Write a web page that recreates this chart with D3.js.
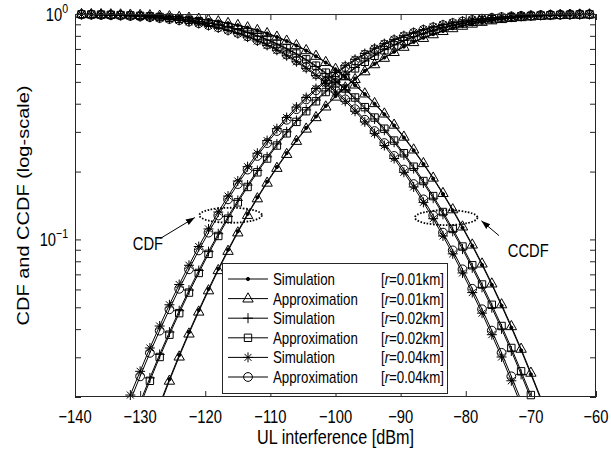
<!DOCTYPE html>
<html lang="en">
<head>
<meta charset="utf-8">
<title>CDF and CCDF of UL interference</title>
<script src="https://cdn.jsdelivr.net/npm/d3@7"></script>
<style>
  body { margin: 0; background: #fff; }
  svg { display: block; font-family: Arial, "Liberation Sans", Helvetica, sans-serif; }
</style>
</head>
<body>
<div id="chart"></div>
<script>
// UL interference grid [dBm] (one marker every 1.5 dB)
const interference = [-139, -137.5, -136, -134.5, -133, -131.5, -130, -128.5, -127, -125.5,
  -124, -122.5, -121, -119.5, -118, -116.5, -115, -113.5, -112, -110.5, -109, -107.5, -106,
  -104.5, -103, -101.5, -100, -98.5, -97, -95.5, -94, -92.5, -91, -89.5, -88, -86.5, -85,
  -83.5, -82, -80.5, -79, -77.5, -76, -74.5, -73, -71.5, -70, -68.5, -67, -65.5, -64, -62.5, -61];

// CDF values (CCDF = 1 - CDF)
const cdfSim001 = [.0016, .0024, .0033, .0045, .0060, .0082, .0108, .0142, .0186, .0240,
  .0307, .0388, .0486, .0603, .0741, .0901, .1087, .1299, .1538, .1803, .2096, .2415, .2758,
  .3124, .3510, .3912, .4324, .4746, .5169, .5592, .6007, .6411, .6800, .7170, .7519, .7842,
  .8140, .8411, .8656, .8873, .9063, .9229, .9371, .9492, .9594, .9678, .9748, .9804, .9849,
  .9886, .9914, .9936, .9952];
const cdfApp001 = [.0016, .0023, .0032, .0044, .0059, .0080, .0106, .0139, .0182, .0236,
  .0302, .0382, .0478, .0594, .0730, .0889, .1073, .1283, .1520, .1784, .2075, .2392, .2734,
  .3098, .3483, .3884, .4296, .4718, .5141, .5564, .5980, .6385, .6775, .7146, .7497, .7822,
  .8122, .8395, .8641, .8860, .9052, .9219, .9363, .9485, .9588, .9673, .9744, .9801, .9847,
  .9884, .9912, .9935, .9951];
const cdfSim002 = [.0035, .0048, .0064, .0085, .0112, .0146, .0190, .0243, .0309, .0388,
  .0483, .0596, .0728, .0883, .1060, .1263, .1490, .1742, .2021, .2325, .2652, .3000, .3370,
  .3755, .4152, .4560, .4971, .5382, .5791, .6190, .6577, .6949, .7300, .7631, .7938, .8220,
  .8476, .8707, .8914, .9094, .9252, .9387, .9502, .9599, .9680, .9748, .9803, .9848, .9884,
  .9911, .9934, .9950, .9963];
const cdfApp002 = [.0034, .0046, .0062, .0083, .0109, .0142, .0184, .0236, .0301, .0378,
  .0471, .0581, .0710, .0863, .1036, .1236, .1460, .1709, .1985, .2285, .2609, .2955, .3322,
  .3705, .4100, .4507, .4918, .5329, .5738, .6138, .6527, .6901, .7255, .7588, .7898, .8184,
  .8443, .8677, .8887, .9070, .9232, .9369, .9487, .9587, .9670, .9740, .9796, .9842, .9879,
  .9908, .9931, .9948, .9961];
const cdfSim004 = [.0052, .0069, .0092, .0121, .0158, .0204, .0260, .0330, .0413, .0513,
  .0631, .0768, .0930, .1113, .1323, .1557, .1816, .2102, .2412, .2745, .3099, .3473, .3862,
  .4262, .4671, .5082, .5493, .5900, .6295, .6678, .7045, .7391, .7715, .8015, .8291, .8540,
  .8764, .8964, .9137, .9290, .9419, .9529, .9622, .9699, .9764, .9816, .9858, .9891, .9917,
  .9938, .9954, .9966, .9976];
const cdfApp004 = [.0049, .0065, .0087, .0114, .0149, .0193, .0247, .0314, .0394, .0490,
  .0604, .0737, .0894, .1072, .1277, .1506, .1760, .2041, .2346, .2675, .3025, .3396, .3782,
  .4180, .4589, .5000, .5411, .5820, .6218, .6604, .6975, .7325, .7654, .7959, .8240, .8494,
  .8723, .8928, .9106, .9263, .9396, .9510, .9606, .9686, .9753, .9807, .9851, .9886, .9913,
  .9935, .9951, .9964, .9974];

const radii = ["0.01", "0.02", "0.04"];
const seriesNames = ["Simulation", "Approximation"];
const xTicks = [-140, -130, -120, -110, -100, -90, -80, -70, -60];
const yMajor = [0.1, 1];
const yMinor = [0.02, 0.03, 0.04, 0.05, 0.06, 0.07, 0.08, 0.09, 0.2, 0.3, 0.4, 0.5, 0.6, 0.7, 0.8, 0.9];

const series = [
  { name: seriesNames[0], r: radii[0], cdf: cdfSim001, marker: "dot" },
  { name: seriesNames[1], r: radii[0], cdf: cdfApp001, marker: "triangle" },
  { name: seriesNames[0], r: radii[1], cdf: cdfSim002, marker: "plus" },
  { name: seriesNames[1], r: radii[1], cdf: cdfApp002, marker: "square" },
  { name: seriesNames[0], r: radii[2], cdf: cdfSim004, marker: "star" },
  { name: seriesNames[1], r: radii[2], cdf: cdfApp004, marker: "circle" }
];

const W = 611, H = 452;
const pL = 75, pR = 596, pT = 14, pB = 397;
const ink = "#262626";
const squeeze = 0.81;   // the figure text is narrower than it is tall
const axFont = 18.2, labelFont = 20, legendFont = 16.4;

const x = d3.scaleLinear().domain([-140, -60]).range([pL, pR]);
const y = d3.scaleLog().domain([0.02, 1]).range([pB, pT]);

const svg = d3.select("#chart").append("svg")
  .attr("width", W).attr("height", H);
svg.append("rect").attr("width", W).attr("height", H).attr("fill", "#fff");

svg.append("clipPath").attr("id", "plot-clip").append("rect")
  .attr("x", pL).attr("y", pT)
  .attr("width", pR - pL).attr("height", pB - pT);

// place a text at (px, py) with the narrow look of the original
function label(parent, px, py, size, anchor) {
  return parent.append("text")
    .attr("transform", `translate(${px},${py}) scale(${squeeze},1)`)
    .attr("text-anchor", anchor || "middle")
    .style("font-size", size + "px")
    .attr("fill", "#000");
}

// marker shapes, centred on 0,0
function markerPath(type) {
  const p = d3.path();
  if (type === "dot") { p.moveTo(1.6, 0); p.arc(0, 0, 1.6, 0, 2 * Math.PI); }
  else if (type === "circle") { p.moveTo(4.4, 0); p.arc(0, 0, 4.4, 0, 2 * Math.PI); }
  else if (type === "triangle") { p.moveTo(0, -5.8); p.lineTo(5.2, 3.4); p.lineTo(-5.2, 3.4); p.closePath(); }
  else if (type === "square") { p.rect(-3.7, -3.7, 7.4, 7.4); }
  else if (type === "plus") { p.moveTo(-5, 0); p.lineTo(5, 0); p.moveTo(0, -5); p.lineTo(0, 5); }
  else if (type === "star") {
    p.moveTo(-5, 0); p.lineTo(5, 0); p.moveTo(0, -5); p.lineTo(0, 5);
    p.moveTo(-3.5, -3.5); p.lineTo(3.5, 3.5); p.moveTo(-3.5, 3.5); p.lineTo(3.5, -3.5);
  }
  return p.toString();
}

const line = d3.line()
  .x(d => x(d[0]))
  .y(d => y(d[1]));

const plot = svg.append("g");

series.forEach(s => {
  const cdfPts = interference.map((v, i) => [v, s.cdf[i]]);
  const ccdfPts = interference.map((v, i) => [v, 1 - s.cdf[i]]);
  [cdfPts, ccdfPts].forEach(pts => {
    plot.append("path")
      .datum(pts)
      .attr("clip-path", "url(#plot-clip)")
      .attr("fill", "none")
      .attr("stroke", "#000")
      .attr("stroke-width", 1)
      .attr("d", line);
    plot.append("g")
      .selectAll("path")
      .data(pts.filter(d => d[1] >= 0.02 && d[1] <= 1))
      .join("path")
      .attr("transform", d => `translate(${x(d[0])},${y(d[1])})`)
      .attr("d", markerPath(s.marker))
      .attr("fill", s.marker === "dot" ? "#000" : "none")
      .attr("stroke", "#000")
      .attr("stroke-width", 1);
  });
});

// axes: ticks pointing inward on all four sides
const yTicks = yMajor.concat(yMinor);
const xAxisB = svg.append("g").attr("transform", `translate(0,${pB})`)
  .call(d3.axisBottom(x).tickValues(xTicks).tickSizeInner(-6).tickSizeOuter(0).tickFormat(""));
const xAxisT = svg.append("g").attr("transform", `translate(0,${pT})`)
  .call(d3.axisTop(x).tickValues(xTicks).tickSizeInner(-6).tickSizeOuter(0).tickFormat(""));
const yAxisL = svg.append("g").attr("transform", `translate(${pL},0)`)
  .call(d3.axisLeft(y).tickValues(yTicks).tickSizeInner(-6).tickSizeOuter(0).tickFormat(""));
const yAxisR = svg.append("g").attr("transform", `translate(${pR},0)`)
  .call(d3.axisRight(y).tickValues(yTicks).tickSizeInner(-6).tickSizeOuter(0).tickFormat(""));
[xAxisB, xAxisT, yAxisL, yAxisR].forEach(g => {
  g.selectAll(".domain").remove();
  g.selectAll("line").attr("stroke", ink);
});

// tick labels
const fmt = d3.format("d");
xTicks.forEach(t => label(svg, x(t), pB + 26, axFont).text(fmt(t)));
yMajor.forEach(t => {
  const tx = label(svg, pL - 7, y(t) + 6.5, axFont, "end");
  tx.append("tspan").text("10");
  tx.append("tspan").attr("dy", -8).style("font-size", "13px").text(fmt(Math.round(Math.log10(t))));
});

// plot box
svg.append("rect")
  .attr("x", pL + 0.5).attr("y", pT + 0.5)
  .attr("width", pR - pL - 1).attr("height", pB - pT - 1)
  .attr("fill", "none").attr("stroke", ink).attr("stroke-width", 1);

// axis titles
label(svg, (pL + pR) / 2, 444, labelFont).text("UL interference [dBm]");
svg.append("text")
  .attr("transform", `translate(29,${(pT + pB) / 2}) scale(${squeeze},1) rotate(-90)`)
  .attr("text-anchor", "middle").style("font-size", labelFont + "px")
  .text("CDF and CCDF (log-scale)");

// CDF / CCDF call-outs
const notes = [
  { label: "CDF", cx: -116.1, cy: 0.128, tx: -128.8, ty: 0.096, from: [-126.9, 0.101], to: [-121.6, 0.125] },
  { label: "CCDF", cx: -83.0, cy: 0.125, tx: -70.4, ty: 0.090, from: [-74.9, 0.104], to: [-77.6, 0.121] }
];
svg.append("defs").append("marker")
  .attr("id", "arrow").attr("viewBox", "0 0 10 10").attr("refX", 10).attr("refY", 5)
  .attr("markerWidth", 9).attr("markerHeight", 9).attr("orient", "auto")
  .attr("markerUnits", "userSpaceOnUse")
  .append("path").attr("d", "M0,1.5L10,5L0,8.5Z").attr("fill", "#000");
notes.forEach(n => {
  svg.append("ellipse")
    .attr("cx", x(n.cx)).attr("cy", y(n.cy))
    .attr("rx", x(n.cx + 4.8) - x(n.cx)).attr("ry", 7.5)
    .attr("fill", "none").attr("stroke", "#000").attr("stroke-width", 1.8)
    .attr("stroke-dasharray", "1.6 1.6");
  svg.append("line")
    .attr("x1", x(n.from[0])).attr("y1", y(n.from[1]))
    .attr("x2", x(n.to[0])).attr("y2", y(n.to[1]))
    .attr("stroke", "#000").attr("stroke-width", 1)
    .attr("marker-end", "url(#arrow)");
  label(svg, x(n.tx), y(n.ty) + 7, axFont).text(n.label);
});

// legend
const lgX = 222, lgY = 263, lgW = 225, lgH = 130, rowH = 19.6;
const legend = svg.append("g");
legend.append("rect")
  .attr("x", lgX + 0.5).attr("y", lgY + 0.5).attr("width", lgW).attr("height", lgH)
  .attr("fill", "#fff").attr("stroke", ink).attr("stroke-width", 1);
series.forEach((s, i) => {
  const ry = lgY + 16 + i * rowH;
  const row = legend.append("g").attr("transform", `translate(0,${ry})`);
  row.append("line").attr("x1", lgX + 6).attr("x2", lgX + 46)
    .attr("stroke", "#000").attr("stroke-width", 1);
  row.append("path").attr("transform", `translate(${lgX + 26},0)`)
    .attr("d", markerPath(s.marker))
    .attr("fill", s.marker === "dot" ? "#000" : "none")
    .attr("stroke", "#000");
  label(row, lgX + 51, 6, legendFont, "start").text(s.name);
  const br = label(row, lgX + lgW - 3, 6, legendFont, "end");
  br.append("tspan").text("[");
  br.append("tspan").style("font-style", "italic").text("r");
  br.append("tspan").text(`=${s.r}km]`);
});
</script>
</body>
</html>
